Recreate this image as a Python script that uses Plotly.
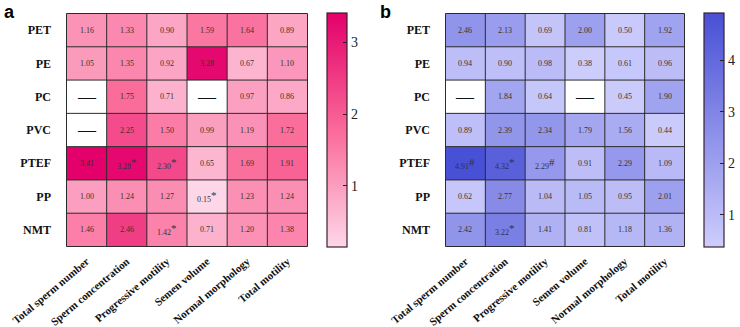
import plotly.graph_objects as go

rows = ["PET", "PE", "PC", "PVC", "PTEF", "PP", "NMT"]
cols = ["Total sperm number", "Sperm concentration", "Progressive motility",
        "Semen volume", "Normal morphology", "Total motility"]

vals_a = [
    [1.16, 1.33, 0.90, 1.59, 1.64, 0.89],
    [1.05, 1.35, 0.92, 3.28, 0.67, 1.10],
    [None, 1.75, 0.71, None, 0.97, 0.86],
    [None, 2.25, 1.50, 0.99, 1.19, 1.72],
    [3.41, 3.28, 2.30, 0.65, 1.69, 1.91],
    [1.00, 1.24, 1.27, 0.15, 1.23, 1.24],
    [1.46, 2.46, 1.42, 0.71, 1.20, 1.38],
]
marks_a = [
    ["", "", "", "", "", ""],
    ["", "", "", "", "", ""],
    ["", "", "", "", "", ""],
    ["", "", "", "", "", ""],
    ["", "*", "*", "", "", ""],
    ["", "", "", "*", "", ""],
    ["", "", "*", "", "", ""],
]
vals_b = [
    [2.46, 2.13, 0.69, 2.00, 0.50, 1.92],
    [0.94, 0.90, 0.98, 0.38, 0.61, 0.96],
    [None, 1.84, 0.64, None, 0.45, 1.90],
    [0.89, 2.39, 2.34, 1.79, 1.56, 0.44],
    [4.91, 4.32, 2.29, 0.91, 2.29, 1.09],
    [0.62, 2.77, 1.04, 1.05, 0.95, 2.01],
    [2.42, 3.22, 1.41, 0.81, 1.18, 1.36],
]
marks_b = [
    ["", "", "", "", "", ""],
    ["", "", "", "", "", ""],
    ["", "", "", "", "", ""],
    ["", "", "", "", "", ""],
    ["#", "*", "#", "", "", ""],
    ["", "", "", "", "", ""],
    ["", "*", "", "", "", ""],
]
cbar_ticks_a = [1, 2, 3]
cbar_ticks_b = [1, 2, 3, 4]

W, H = 740, 327
SERIF = "Liberation Serif, Times New Roman, serif"

scale_a = [[0, "#fdd7e8"], [0.5, "#fa6a99"], [1, "#e3006a"]]
scale_b = [[0, "#cdcdfc"], [1, "#4850d5"]]

def px(x):
    return x / W

def py(y):
    return 1 - y / H

panels = [
    dict(vals=vals_a, marks=marks_a, scale=scale_a, x0=66, x1=308, cb0=327,
         ticks=cbar_ticks_a, letter="a", lx=2, xa="x", ya="y"),
    dict(vals=vals_b, marks=marks_b, scale=scale_b, x0=445, x1=685, cb0=704,
         ticks=cbar_ticks_b, letter="b", lx=378, xa="x2", ya="y2"),
]
top, bot = 13, 247

fig = go.Figure()
annotations = []
shapes = []
layout = {}
for i, p in enumerate(panels):
    flat = [v for r in p["vals"] for v in r if v is not None]
    fig.add_trace(go.Heatmap(
        z=p["vals"], x=cols, y=rows, xaxis=p["xa"], yaxis=p["ya"],
        colorscale=p["scale"], zmin=min(flat), zmax=max(flat),
        hoverongaps=False,
        colorbar=dict(
            x=px(p["cb0"]), xanchor="left", xref="paper", xpad=0,
            y=py(bot), yanchor="bottom", ypad=0,
            len=(bot - top) / H, lenmode="fraction",
            thickness=20, thicknessmode="pixels",
            outlinewidth=1.2, outlinecolor="#3a2030",
            tickvals=p["ticks"], ticks="inside", ticklen=4, tickwidth=1.2,
            tickcolor="#222", tickfont=dict(family=SERIF, size=14, color="#222"),
        ),
    ))
    sfx = "" if i == 0 else "2"
    layout["xaxis" + sfx] = dict(
        domain=[px(p["x0"]), px(p["x1"])], anchor=p["ya"], automargin=False,
        tickangle=-40, tickfont=dict(family=SERIF, size=11, color="#111"),
        showgrid=False, zeroline=False, ticks="", showline=False,
        ticklabelstandoff=5,
        categoryorder="array", categoryarray=cols,
        tickprefix="<b>", ticksuffix="</b>",
    )
    layout["yaxis" + sfx] = dict(
        domain=[py(bot), py(top)], anchor=p["xa"], autorange="reversed",
        automargin=False,
        tickfont=dict(family=SERIF, size=12, color="#111"),
        showgrid=False, zeroline=False, ticks="", showline=False,
        ticklabelstandoff=14,
        tickprefix="<b>", ticksuffix="</b>",
    )
    # grid lines at cell boundaries
    for k in range(len(cols) + 1):
        shapes.append(dict(type="line", xref=p["xa"], yref=p["ya"],
                           x0=k - 0.5, x1=k - 0.5, y0=-0.5, y1=len(rows) - 0.5,
                           line=dict(color="#2b2b2b", width=1), layer="above"))
    for k in range(len(rows) + 1):
        shapes.append(dict(type="line", xref=p["xa"], yref=p["ya"],
                           y0=k - 0.5, y1=k - 0.5, x0=-0.5, x1=len(cols) - 0.5,
                           line=dict(color="#2b2b2b", width=1), layer="above"))
    for r, rn in enumerate(rows):
        for c, cn in enumerate(cols):
            v = p["vals"][r][c]
            m = p["marks"][r][c]
            if v is None:
                txt = "—"
                fnt = dict(family=SERIF, size=18, color="#111")
            else:
                sup = (f"<sup><span style='font-size:11px'>{m}</span></sup>"
                       if m else "")
                txt = f"{v:.2f}" + sup
                fnt = dict(family=SERIF, size=8, color="#333")
            annotations.append(dict(x=cn, y=rn, xref=p["xa"], yref=p["ya"],
                                    text=txt, showarrow=False, font=fnt))
    annotations.append(dict(x=px(p["lx"]), y=1.0, xref="paper", yref="paper",
                            xanchor="left", yanchor="top", text=f"<b>{p['letter']}</b>",
                            showarrow=False,
                            font=dict(family="Liberation Sans, Arial, sans-serif",
                                      size=18, color="#000")))

fig.update_layout(
    width=W, height=H,
    margin=dict(l=0, r=0, t=0, b=0, pad=0, autoexpand=False),
    paper_bgcolor="white", plot_bgcolor="white",
    annotations=annotations, shapes=shapes, **layout,
)
fig.write_html(
    "out.html",
    config={"displayModeBar": False},
    post_script="document.body.style.margin='0';document.body.style.overflow='hidden';",
)
